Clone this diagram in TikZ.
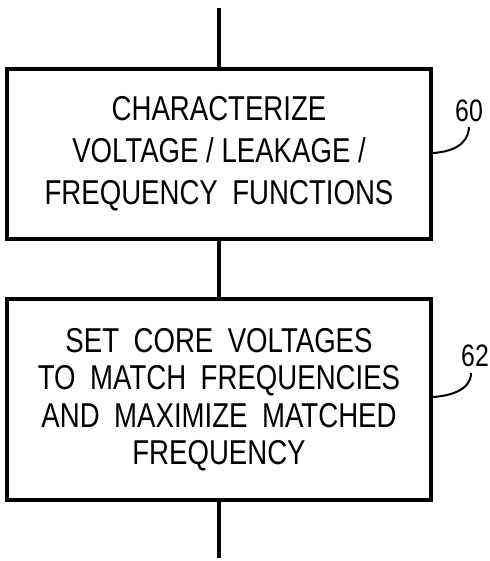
\documentclass[tikz,border=0pt]{standalone}
\usepackage{fontspec}
\setmainfont{Liberation Sans}[FakeStretch=0.8]
\newcommand{\wsp}{\hspace{0.42em}}
\begin{document}
\begin{tikzpicture}[x=1pt,y=-1pt,
  boxstyle/.style={draw,line width=3.2pt,minimum width=424pt,inner sep=0pt,align=center},
  conn/.style={line width=3.2pt},
  lead/.style={line width=2pt},
  refnum/.style={font=\fontsize{31}{32}\selectfont,inner sep=0pt}]
\useasboundingbox (0,0) rectangle (489,561);
\node[boxstyle,minimum height=170pt,font=\fontsize{34.5}{42}\selectfont] (b1) at (219,154)
  {CHARACTERIZE\\VOLTAGE / LEAKAGE /\\FREQUENCY\wsp FUNCTIONS};
\node[boxstyle,minimum height=201pt,font=\fontsize{34.5}{37.5}\selectfont] (b2) at (219,399.5)
  {SET\wsp CORE\wsp VOLTAGES\\TO\wsp MATCH\wsp FREQUENCIES\\AND\wsp MAXIMIZE\wsp MATCHED\\FREQUENCY};
\coordinate (top) at (219,8);
\coordinate (bot) at (219,558);
\draw[conn] (top) -- (b1.north);
\draw[conn] (b1.south) -- (b2.north);
\draw[conn] (b2.south) -- (bot);
\node[refnum] (n60) at (469,111) {60};
\node[refnum] (n62) at (475,356) {62};
\coordinate (l60) at (b1.east |- 0,153);
\coordinate (l62) at (b2.east |- 0,397);
\draw[lead] (l60) .. controls (450,152) and (468,146) .. ([yshift=-5pt]n60.south);
\draw[lead] (l62) .. controls (450,396) and (471,390) .. ([xshift=-4pt,yshift=-6pt]n62.south);
\end{tikzpicture}
\end{document}
